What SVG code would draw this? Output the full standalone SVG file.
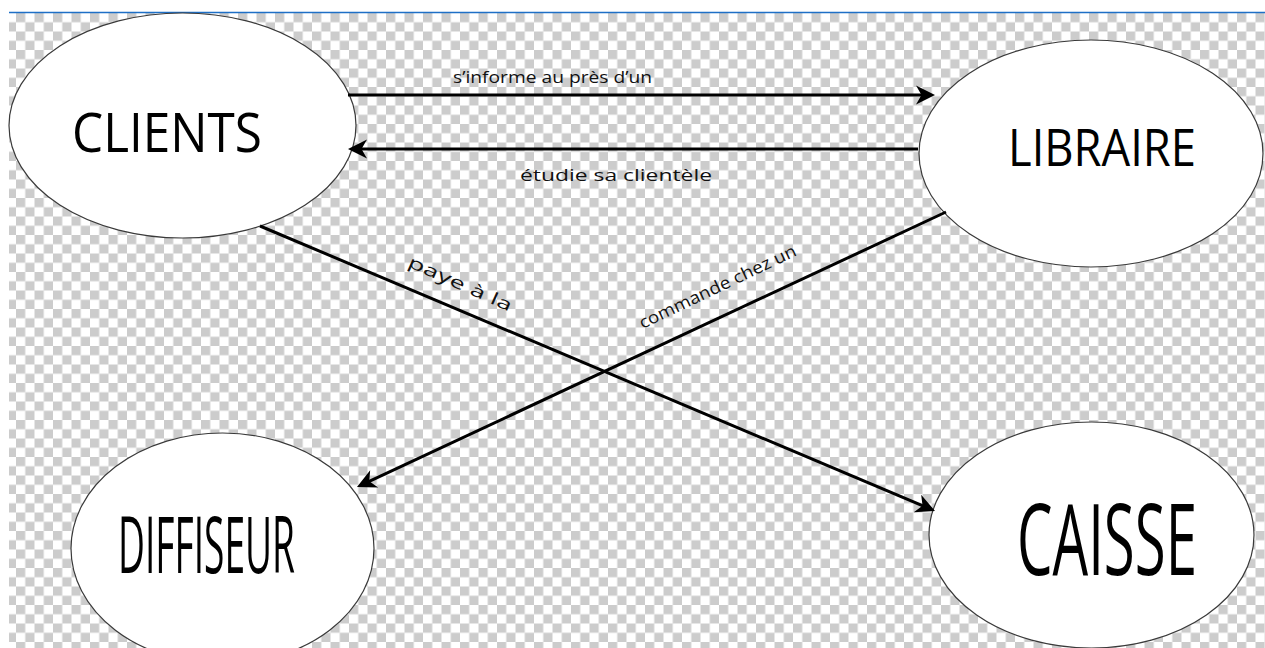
<svg xmlns="http://www.w3.org/2000/svg" width="1265" height="648" viewBox="0 0 1265 648">
  <style>
    .node { fill: #ffffff; stroke: #3a3a3a; stroke-width: 1.2; }
    .big { font-family: "Open Sans", "Liberation Sans", sans-serif; fill: #000; }
    .lbl { font-family: "Open Sans", "Liberation Sans", sans-serif; fill: #111; font-size: 17px; }
    .edge { fill: none; stroke: #000; stroke-width: 3; }
  </style>
  <defs>
    <pattern id="checker" patternUnits="userSpaceOnUse" x="-2.5" y="13" width="18.5" height="18.5">
      <rect width="18.5" height="18.5" fill="#ffffff"/>
      <rect width="9.25" height="9.25" fill="#cccccc"/>
      <rect x="9.25" y="9.25" width="9.25" height="9.25" fill="#cccccc"/>
    </pattern>
    <marker id="arrow" viewBox="-17 -11 23 22" refX="0" refY="0" markerWidth="23" markerHeight="22" markerUnits="userSpaceOnUse" orient="auto">
      <path d="M4,0 L-15,-9.5 L-9.5,0 L-15,9.5 Z" fill="#000"/>
    </marker>
  </defs>

  <!-- canvas -->
  <rect width="1265" height="648" fill="#ffffff"/>
  <rect x="9" y="13" width="1256" height="635" fill="url(#checker)"/>
  <line x1="9" y1="12.5" x2="1265" y2="12.5" stroke="#1e6fc6" stroke-width="1.3"/>

  <!-- nodes -->
  <g id="clients">
    <ellipse class="node" cx="182.5" cy="125.5" rx="173.5" ry="112.5"/>
    <text class="big" x="72" y="152" font-size="54.5" textLength="190" lengthAdjust="spacingAndGlyphs">CLIENTS</text>
  </g>
  <g id="libraire">
    <ellipse class="node" cx="1091" cy="153.5" rx="172" ry="113.5"/>
    <text class="big" x="1008" y="166" font-size="50.5" textLength="188" lengthAdjust="spacingAndGlyphs">LIBRAIRE</text>
  </g>
  <g id="diffiseur">
    <ellipse class="node" cx="222.5" cy="548.5" rx="151.5" ry="115.5"/>
    <text class="big" x="118" y="573" font-size="78" textLength="177" lengthAdjust="spacingAndGlyphs">DIFFISEUR</text>
  </g>
  <g id="caisse">
    <ellipse class="node" cx="1091.5" cy="535" rx="162.5" ry="113"/>
    <text class="big" transform="translate(1017,575) scale(1,1.4)" x="0" y="0" font-size="71" textLength="180" lengthAdjust="spacingAndGlyphs">CAISSE</text>
  </g>

  <!-- connectors -->
  <g id="connectors">
    <path class="edge" d="M348,95 H931" marker-end="url(#arrow)"/>
    <path class="edge" d="M918,149 H352" marker-end="url(#arrow)"/>
    <path class="edge" d="M260,226 L931.3,509.4" marker-end="url(#arrow)"/>
    <path class="edge" d="M946,212 L360.6,485.3" marker-end="url(#arrow)"/>

    <text class="lbl" x="453" y="83" textLength="199" lengthAdjust="spacingAndGlyphs">s’informe au près d’un</text>
    <text class="lbl" x="520" y="181" font-family="DejaVu Sans, sans-serif" font-size="16" textLength="192" lengthAdjust="spacingAndGlyphs">étudie sa clientèle</text>
    <text class="lbl" transform="translate(458,289) rotate(24)" text-anchor="middle" font-family="DejaVu Sans, sans-serif" font-size="18" textLength="112" lengthAdjust="spacingAndGlyphs">paye à la</text>
    <text class="lbl" transform="translate(720,292) rotate(-25.5)" text-anchor="middle" textLength="172" lengthAdjust="spacingAndGlyphs">commande chez un</text>
  </g>
</svg>
